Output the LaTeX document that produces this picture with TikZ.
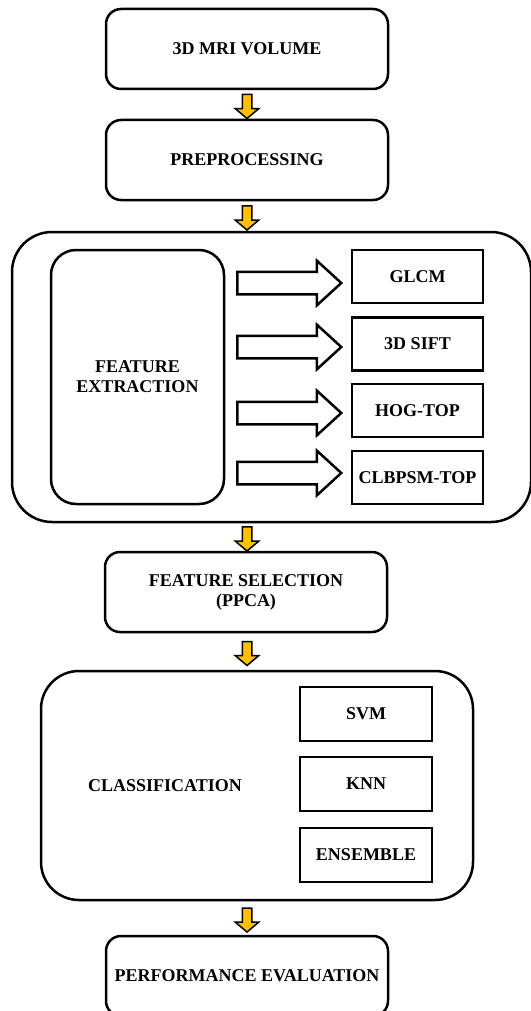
\documentclass[tikz,border=0pt]{standalone}
\usepackage{fontspec}
\setmainfont{Liberation Serif}
\usetikzlibrary{shapes.arrows,calc}
\definecolor{gold}{RGB}{255,192,0}

\begin{document}
\begin{tikzpicture}[x=1pt,y=-1pt,
        every node/.style={font=\fontsize{18}{20}\selectfont\bfseries},
        stage/.style={draw,line width=2.5pt,rounded corners=15pt,minimum width=282pt,minimum height=80pt,align=center},
        method/.style={draw,line width=2.5pt,minimum width=131pt,minimum height=53pt},
        flow/.style={single arrow,draw,line width=1.5pt,fill=gold,shape border rotate=270,inner sep=4pt,single arrow head extend=7pt,single arrow tip angle=100,minimum width=22pt,minimum height=24pt},
        bigarrow/.style={single arrow,draw,line width=2.5pt,inner sep=10pt,single arrow head extend=11pt,single arrow tip angle=85,minimum width=42pt,minimum height=104pt,anchor=tail}]
    \useasboundingbox (0,0) rectangle (530,1011);

    \node[stage] (mri) at (247,49) {3D MRI VOLUME};
    \node[stage] (pre) at (247,160) {PREPROCESSING};

    % feature extraction block
    \node[draw,line width=2.5pt,rounded corners=40pt,minimum width=519pt,minimum height=290pt] (fe) at (271.5,377) {};
    \node[draw,line width=2.5pt,rounded corners=25pt,minimum width=173pt,minimum height=254pt,align=center] (fetext) at (137.5,377) {FEATURE\\EXTRACTION};
    \foreach \name/\lbl/\y in {glcm/GLCM/276.5,sift/3D SIFT/344,hog/HOG-TOP/410.5,clbp/CLBPSM-TOP/477.5} {
        \node[method] (\name) at (417.5,\y) {\lbl};
    }
    \foreach \y [count=\i] in {283,347,413,473} {
        \node[bigarrow] (fa\i) at (236,\y) {};
    }

    \node[stage] (fs) at (246,592) {FEATURE SELECTION\\(PPCA)};

    % classification block
    \node[draw,line width=2.5pt,rounded corners=38pt,minimum width=432pt,minimum height=229pt] (cls) at (257,785.5) {};
    \node (clstext) at (165,786) {CLASSIFICATION};
    \foreach \name/\lbl/\y in {svm/SVM/714,knn/KNN/784,ens/ENSEMBLE/855} {
        \node[method,minimum width=132pt,minimum height=54pt] (\name) at (366,\y) {\lbl};
    }

    \node[stage] (pe) at (247,976) {PERFORMANCE EVALUATION};

    \foreach \a/\b [count=\i] in {mri/pre,pre/fe,fe/fs,fs/cls,cls/pe} {
        \coordinate (m\i) at ($(\a.south)!0.5!(\b.north)$);
        \node[flow] (flow\i) at (mri.south |- m\i) {};
    }
\end{tikzpicture}
\end{document}
